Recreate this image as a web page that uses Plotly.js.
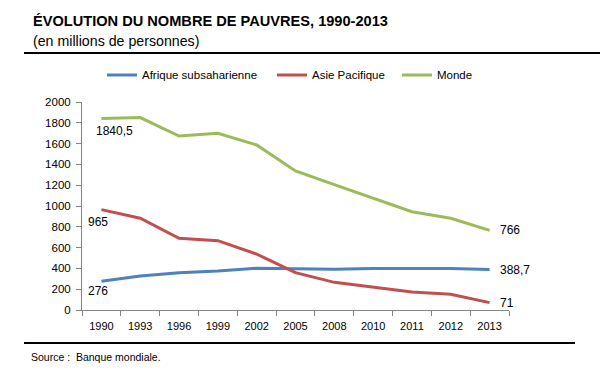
<!DOCTYPE html>
<html>
<head>
<meta charset="utf-8">
<script src="https://cdn.plot.ly/plotly-3.0.1.min.js"></script>
<style>html,body{margin:0;padding:0;background:#fff}#chart{width:601px;height:373px}</style>
</head>
<body>
<div id="chart"></div>
<script>
const years = ["1990","1993","1996","1999","2002","2005","2008","2010","2011","2012","2013"];
const afrique = [276, 327, 359, 375, 401, 393, 392, 398, 398, 398, 388.7];
const asie = [965, 882, 689, 667, 538, 359, 266, 218, 173, 151, 71];
const monde = [1840.5, 1850, 1673, 1700, 1587, 1337, 1205, 1074, 945, 882, 766];
const seriesNames = ["Afrique subsaharienne", "Asie Pacifique", "Monde"];
const seriesColors = ["#4F81BD", "#C0504D", "#9BBB59"];
const labelFirst = ["276", "965", "1840,5"];
const labelLast = ["388,7", "71", "766"];

const font = "Liberation Sans, Arial, sans-serif";
const allSeries = [afrique, asie, monde];
const legendIds = ["legend", "legend2", "legend3"];
const legendX = [0.0468, 0.445, 0.7377];

const traces = allSeries.map((vals, i) => ({
  x: years, y: vals, type: "scatter", mode: "lines",
  name: seriesNames[i], legend: legendIds[i],
  line: {color: seriesColors[i], width: 3}
}));

const annotations = [];
const firstShift = [[-3, -10], [-3, -12], [13, -12]];
const lastIdx = years.length - 1;
allSeries.forEach((vals, i) => {
  annotations.push({x: 0, y: vals[0], xref: "x", yref: "y", text: labelFirst[i],
    showarrow: false, xshift: firstShift[i][0], yshift: firstShift[i][1],
    font: {family: font, size: 12, color: "#000"}});
  annotations.push({x: lastIdx, y: vals[lastIdx], xref: "x", yref: "y",
    text: labelLast[i], showarrow: false, xanchor: "left", xshift: 8, yshift: 0,
    font: {family: font, size: 12, color: "#000"}});
});
annotations.push({xref: "paper", yref: "paper", x: -0.1194, y: 1.389, xanchor: "left", yanchor: "middle",
  text: "<b>ÉVOLUTION DU NOMBRE DE PAUVRES, 1990-2013</b>", showarrow: false,
  font: {family: font, size: 14.6, color: "#000"}});
annotations.push({xref: "paper", yref: "paper", x: -0.1194, y: 1.293, xanchor: "left", yanchor: "middle",
  text: "(en millions de personnes)", showarrow: false,
  font: {family: font, size: 14.2, color: "#000"}});
annotations.push({xref: "paper", yref: "paper", x: -0.124, y: -0.226, xanchor: "left", yanchor: "middle",
  text: "Source :  Banque mondiale.", showarrow: false,
  font: {family: font, size: 10.5, color: "#000"}});

const layout = {
  width: 601, height: 373,
  margin: {l: 82, r: 92, t: 102, b: 63},
  paper_bgcolor: "#fff", plot_bgcolor: "#fff",
  showlegend: true,
  xaxis: {type: "category", range: [-0.5, 10.5], showgrid: false, zeroline: false,
    showline: true, linecolor: "#868686", linewidth: 1,
    ticks: "outside", ticklen: 5, tickcolor: "#868686", tickson: "boundaries",
    ticklabelstandoff: 6,
    tickfont: {family: font, size: 11, color: "#000"}, fixedrange: true},
  yaxis: {range: [0, 2000], dtick: 200, showgrid: false, zeroline: false,
    showline: true, linecolor: "#868686", linewidth: 1,
    ticks: "outside", ticklen: 5, tickcolor: "#868686", ticklabelstandoff: 3,
    tickfont: {family: font, size: 11.5, color: "#000"}, fixedrange: true},
  shapes: [
    {type: "line", xref: "paper", yref: "paper", x0: -0.1358, x1: 1.2131, y0: 1.2356, y1: 1.2356,
      line: {color: "#000", width: 2}},
    {type: "line", xref: "paper", yref: "paper", x0: -0.1358, x1: 1.1546, y0: -0.1587, y1: -0.1587,
      line: {color: "#000", width: 2}}
  ],
  annotations: annotations
};
legendIds.forEach((id, i) => {
  layout[id] = {orientation: "h", x: legendX[i], y: 1.13, xanchor: "left", yanchor: "middle",
    font: {family: font, size: 11.5, color: "#000"}, itemwidth: 30, bgcolor: "rgba(0,0,0,0)"};
});

Plotly.newPlot("chart", traces, layout, {displayModeBar: false, staticPlot: true});
</script>
</body>
</html>
